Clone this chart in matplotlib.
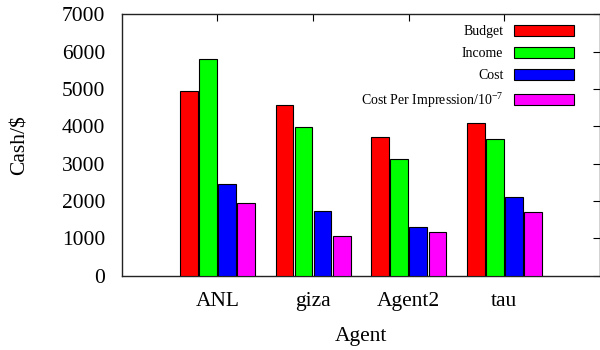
import numpy as np
import matplotlib
matplotlib.use("Agg")
import matplotlib.pyplot as plt

plt.rcParams["font.family"] = "Liberation Serif"
plt.rcParams["mathtext.fontset"] = "custom"
plt.rcParams["mathtext.rm"] = "Liberation Serif"
plt.rcParams["mathtext.it"] = "Liberation Serif:italic"

# Dane po agentach
agents = ["ANL", "giza", "Agent2", "tau"]
budget = [4950, 4570, 3710, 4080]
income = [5800, 3990, 3120, 3650]
cost = [2460, 1740, 1300, 2110]
cpi = [1960, 1060, 1180, 1700]

series = [budget, income, cost, cpi]
labels = ["Budget", "Income", "Cost", "Cost Per Impression/10$^{-7}$"]
colors = ["#ff0000", "#00ff00", "#0000ff", "#ff00ff"]

fig = plt.figure(figsize=(6, 3.5), dpi=100)
ax = fig.add_axes([0.203, 0.212, 0.797, 0.747])

x = np.arange(1, len(agents) + 1)
w = 0.2
for i, (vals, lab, col) in enumerate(zip(series, labels, colors)):
    ax.bar(x + (i - 1.5) * w, vals, width=0.185, color=col,
           edgecolor="black", linewidth=0.8, label=lab, zorder=3)

ax.set_xlim(0, 5)
ax.set_ylim(0, 7000)
ax.set_xticks(x)
ax.set_xticklabels(agents, fontsize=15.5)
ax.set_yticks(np.arange(0, 7001, 1000))
ax.tick_params(axis="y", labelsize=15.5, direction="in", length=5,
               left=True, right=True, pad=12)
ax.tick_params(axis="x", direction="in", length=5, top=True, bottom=False,
               pad=12)
for t in ax.yaxis.get_major_ticks():
    t.tick1line.set_visible(False)
for s in ax.spines.values():
    s.set_linewidth(1.0)
    s.set_color("#222222")

ax.set_ylabel("Cash/$", fontsize=15.5, labelpad=23)
ax.set_xlabel("Agent", fontsize=15.5, labelpad=11)

leg = ax.legend(loc="upper right", bbox_to_anchor=(0.972, 1.008), frameon=False,
                markerfirst=False, fontsize=10, handlelength=4.3,
                handleheight=0.86, labelspacing=0.62, handletextpad=0.8)
for t in leg.get_texts():
    t.set_ha("right")

fig.savefig("out.png", dpi=100)
